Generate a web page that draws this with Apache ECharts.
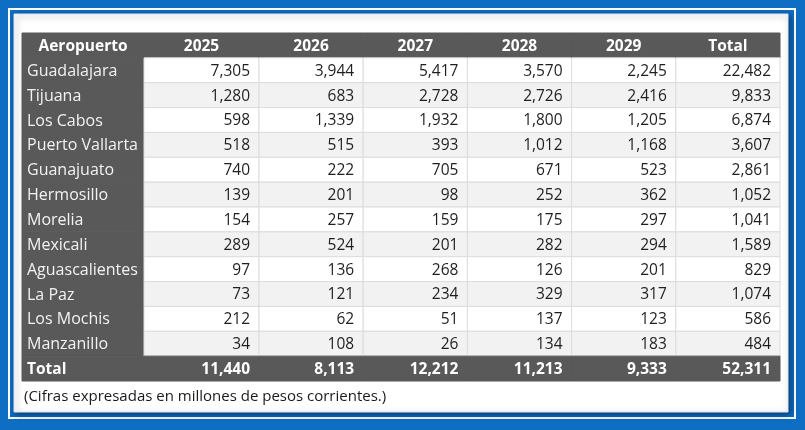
<!DOCTYPE html>
<html>
<head>
<meta charset="utf-8">
<script src="https://cdn.jsdelivr.net/npm/echarts@6/dist/echarts.min.js"></script>
<style>
html,body{margin:0;padding:0;background:#0d6ec4;}
#chart{width:805px;height:430px;}
</style>
</head>
<body>
<div id="chart"></div>
<script>
const headerLabel = 'Aeropuerto';
const totalLabel = 'Total';
const columns = ['2025', '2026', '2027', '2028', '2029', 'Total'];
const airports = ['Guadalajara', 'Tijuana', 'Los Cabos', 'Puerto Vallarta', 'Guanajuato', 'Hermosillo', 'Morelia', 'Mexicali', 'Aguascalientes', 'La Paz', 'Los Mochis', 'Manzanillo'];
const y2025 = [7305, 1280, 598, 518, 740, 139, 154, 289, 97, 73, 212, 34];
const y2026 = [3944, 683, 1339, 515, 222, 201, 257, 524, 136, 121, 62, 108];
const y2027 = [5417, 2728, 1932, 393, 705, 98, 159, 201, 268, 234, 51, 26];
const y2028 = [3570, 2726, 1800, 1012, 671, 252, 175, 282, 126, 329, 137, 134];
const y2029 = [2245, 2416, 1205, 1168, 523, 362, 297, 294, 201, 317, 123, 183];
const rowTotals = [22482, 9833, 6874, 3607, 2861, 1052, 1041, 1589, 829, 1074, 586, 484];
const columnTotals = [11440, 8113, 12212, 11213, 9333, 52311];
const note = '(Cifras expresadas en millones de pesos corrientes.)';

const seriesValues = [y2025, y2026, y2027, y2028, y2029, rowTotals];
const rowCats = [headerLabel].concat(airports, [totalLabel]);
const fmt = v => v.toLocaleString('en-US');
const FONT = '"Open Sans", "Noto Sans", sans-serif';
const DARK = '#595959';

// grid 0: label column, grid 1: 2025 column, grid 2: remaining columns
const gridCols = [[headerLabel], [columns[0]], columns.slice(1)];

function buildData(gi) {
  const out = [];
  gridCols[gi].forEach((col, xi) => {
    rowCats.forEach((rc, yi) => {
      let text, kind;
      if (gi === 0) {
        text = rc;
        kind = yi === 0 ? 'headL' : (yi === rowCats.length - 1 ? 'totalL' : 'label');
      } else {
        const ci = columns.indexOf(col);
        if (yi === 0) { text = col; kind = 'head'; }
        else if (yi === rowCats.length - 1) { text = fmt(columnTotals[ci]); kind = 'total'; }
        else { text = fmt(seriesValues[ci][yi - 1]); kind = 'num'; }
      }
      out.push([xi, yi, text, kind]);
    });
  });
  return out;
}

function renderItem(params, api) {
  const xi = api.value(0), yi = api.value(1);
  const c = api.coord([xi, yi]);
  const s = api.size([1, 1]);
  const x0 = c[0] - s[0] / 2, y0 = c[1] - s[1] / 2;
  const kind = api.value(3);
  const text = api.value(2);
  let fill, stroke, txtStyle;
  if (kind === 'num') {
    const ai = yi - 1;
    fill = ai % 2 === 1 ? '#f2f2f2' : '#ffffff';
    stroke = '#dcdcdc';
    txtStyle = { x: x0 + s[0] - 9, y: c[1] + 1, text: String(text), fill: '#1f1f1f', font: '15.5px ' + FONT, align: 'right', verticalAlign: 'middle' };
  } else {
    fill = DARK; stroke = DARK;
    if (kind === 'label') {
      txtStyle = { x: x0 + 5, y: c[1] + 1, text: String(text), fill: '#f2f2f2', font: '16px ' + FONT, align: 'left', verticalAlign: 'middle' };
    } else if (kind === 'totalL') {
      txtStyle = { x: x0 + 5, y: c[1] + 1, text: String(text), fill: '#ffffff', font: 'bold 15.5px ' + FONT, align: 'left', verticalAlign: 'middle' };
    } else if (kind === 'headL' || kind === 'head') {
      txtStyle = { x: c[0], y: c[1] + 1, text: String(text), fill: '#ffffff', font: 'bold 15.5px ' + FONT, align: 'center', verticalAlign: 'middle' };
    } else {
      txtStyle = { x: x0 + s[0] - 9, y: c[1] + 1, text: String(text), fill: '#ffffff', font: 'bold 15.5px ' + FONT, align: 'right', verticalAlign: 'middle' };
    }
  }
  return {
    type: 'group',
    children: [
      { type: 'rect', shape: { x: x0, y: y0, width: s[0], height: s[1] }, style: { fill: fill, stroke: stroke, lineWidth: 1 } },
      { type: 'text', style: txtStyle, z2: 10 }
    ]
  };
}

const TOP = 33, BOTTOM_EDGE = 381;
const grids = [
  { left: 22, width: 122, top: TOP, height: BOTTOM_EDGE - TOP },
  { left: 144, width: 115, top: TOP, height: BOTTOM_EDGE - TOP },
  { left: 259, width: 521, top: TOP, height: BOTTOM_EDGE - TOP }
];

const chart = echarts.init(document.getElementById('chart'), null, { renderer: 'canvas' });
chart.setOption({
  backgroundColor: '#0d6ec4',
  animation: false,
  grid: grids,
  xAxis: gridCols.map((cats, i) => ({ type: 'category', gridIndex: i, data: cats, show: false })),
  yAxis: gridCols.map((cats, i) => ({ type: 'category', gridIndex: i, data: rowCats, inverse: true, show: false })),
  graphic: [
    { type: 'rect', z: -10, shape: { x: 9, y: 9, width: 786, height: 409 }, style: { fill: 'none', stroke: '#ffffff', lineWidth: 2 } },
    { type: 'rect', z: -9, shape: { x: 14, y: 14, width: 774, height: 398 }, style: { fill: '#ffffff', stroke: '#dfe6ee', lineWidth: 1, shadowBlur: 6, shadowColor: 'rgba(0,0,0,0.45)', shadowOffsetX: 2, shadowOffsetY: 2 } },
    { type: 'text', z: 5, style: { x: 24, y: 397, text: note, fill: '#1a1a1a', font: '15px ' + FONT, verticalAlign: 'middle' } }
  ],
  series: [0, 1, 2].map(gi => ({
    type: 'custom',
    xAxisIndex: gi,
    yAxisIndex: gi,
    renderItem: renderItem,
    data: buildData(gi),
    encode: { x: 0, y: 1 },
    dimensions: [{ name: 'x', type: 'ordinal' }, { name: 'y', type: 'ordinal' }, { name: 'text', type: 'ordinal' }, { name: 'kind', type: 'ordinal' }],
    silent: true
  }))
});
</script>
</body>
</html>
